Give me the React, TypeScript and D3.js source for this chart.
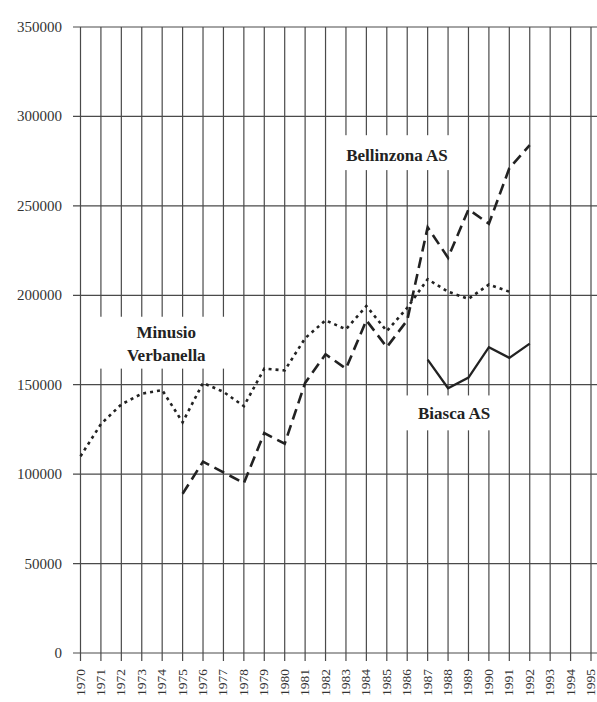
import React, { useEffect, useRef } from "react";
import * as d3 from "d3";

// years on the x axis
const years = d3.range(1970, 1996);
const yTicks = [0, 50000, 100000, 150000, 200000, 250000, 300000, 350000];

const minusioYears = d3.range(1970, 1992);
const minusioValues = [110000, 128000, 139000, 145000, 147000, 129000, 151000, 146000, 138000, 159000, 158000,
  176000, 186000, 181000, 194000, 180000, 193000, 209000, 202000, 198000, 206000, 202000];

const bellinzonaYears = d3.range(1975, 1993);
const bellinzonaValues = [89000, 107000, 101000, 95000, 123000, 117000, 151000, 167000, 159000, 186000,
  171000, 186000, 238000, 221000, 248000, 240000, 271000, 284000];

const biascaYears = d3.range(1987, 1993);
const biascaValues = [164000, 148000, 154000, 171000, 165000, 173000];

function App() {
  const svgRef = useRef<SVGSVGElement>(null);

  useEffect(() => {
    const width = 597;
    const height = 702;

    const svg = d3.select(svgRef.current)
      .attr("width", width)
      .attr("height", height);
    svg.selectAll("*").remove();

    const x = d3.scaleLinear().domain([1970, 1995]).range([80.5, 591]);
    const y = d3.scaleLinear().domain([0, 350000]).range([653, 27]);

    const serif = "'Liberation Serif', 'DejaVu Serif', serif";

    // horizontal grid + left ticks
    svg.append("g")
      .selectAll("line")
      .data(yTicks)
      .join("line")
      .attr("x1", 73)
      .attr("x2", width)
      .attr("y1", d => y(d))
      .attr("y2", d => y(d))
      .attr("stroke", "#4a4a4a")
      .attr("stroke-width", 1.2);

    // vertical grid + bottom ticks
    svg.append("g")
      .selectAll("line")
      .data(years)
      .join("line")
      .attr("x1", d => x(d))
      .attr("x2", d => x(d))
      .attr("y1", y(350000))
      .attr("y2", y(0) + 8)
      .attr("stroke", "#4a4a4a")
      .attr("stroke-width", 1.2);

    // y labels
    svg.append("g")
      .selectAll("text")
      .data(yTicks)
      .join("text")
      .attr("x", 62)
      .attr("y", d => y(d) + 5)
      .attr("text-anchor", "end")
      .attr("font-family", serif)
      .attr("font-size", 15)
      .attr("fill", "#333")
      .text(d => String(d));

    // x labels, rotated
    svg.append("g")
      .selectAll("text")
      .data(years)
      .join("text")
      .attr("transform", d => `translate(${x(d) + 4},${y(0) + 16}) rotate(-90)`)
      .attr("text-anchor", "end")
      .attr("font-family", serif)
      .attr("font-size", 13.5)
      .attr("fill", "#333")
      .text(d => String(d));

    // white boxes behind the series names
    const boxes = [
      { x0: 1970.45, x1: 1977.6, v0: 188000, v1: 159000 },
      { x0: 1982.35, x1: 1988.6, v0: 289500, v1: 270000 },
      { x0: 1985.7, x1: 1990.9, v0: 144000, v1: 124500 },
    ];
    svg.append("g")
      .selectAll("rect")
      .data(boxes)
      .join("rect")
      .attr("x", d => x(d.x0))
      .attr("y", d => y(d.v0))
      .attr("width", d => x(d.x1) - x(d.x0))
      .attr("height", d => y(d.v1) - y(d.v0))
      .attr("fill", "white");

    const line = d3.line<[number, number]>()
      .x(d => x(d[0]))
      .y(d => y(d[1]));

    const series = [
      { yrs: minusioYears, vals: minusioValues, dash: "3,4", w: 2.6 },
      { yrs: bellinzonaYears, vals: bellinzonaValues, dash: "11,6", w: 2.6 },
      { yrs: biascaYears, vals: biascaValues, dash: null, w: 2.3 },
    ];

    series.forEach(s => {
      svg.append("path")
        .datum(s.yrs.map((yr, i) => [yr, s.vals[i]] as [number, number]))
        .attr("d", line)
        .attr("fill", "none")
        .attr("stroke", "#222")
        .attr("stroke-width", s.w)
        .attr("stroke-dasharray", s.dash);
    });

    // series names
    const labels = [
      { t: "Minusio", yr: 1974.2, v: 179500 },
      { t: "Verbanella", yr: 1974.2, v: 166600 },
      { t: "Bellinzona AS", yr: 1985.5, v: 278500 },
      { t: "Biasca AS", yr: 1988.3, v: 134000 },
    ];
    svg.append("g")
      .selectAll("text")
      .data(labels)
      .join("text")
      .attr("x", d => x(d.yr))
      .attr("y", d => y(d.v) + 6)
      .attr("text-anchor", "middle")
      .attr("font-family", serif)
      .attr("font-weight", "bold")
      .attr("font-size", 17)
      .attr("fill", "#222")
      .text(d => d.t);
  }, []);

  return (
    <div>
      <svg ref={svgRef} style={{ position: "absolute", left: 0, top: 0, background: "white" }}></svg>
    </div>
  );
}

export default App;
